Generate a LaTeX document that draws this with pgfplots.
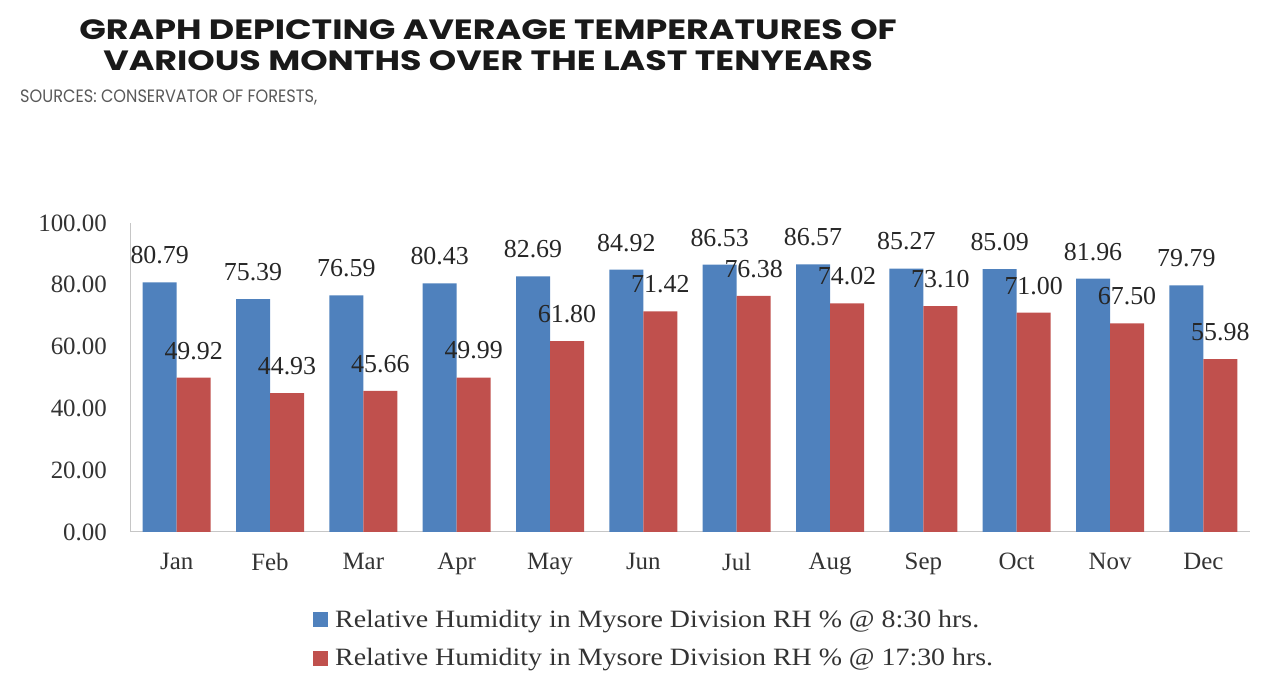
\documentclass[border=0pt]{standalone}
\usepackage{pgfplots}
\pgfplotsset{compat=1.18}
\usepackage{fontspec}
\setmainfont{Liberation Serif}
\newfontfamily\headfont{Poppins}[FakeStretch=1.25]
\newfontfamily\subfont{Poppins}[FakeStretch=0.9]
\newfontfamily\legendfont{Liberation Serif}[FakeStretch=1.12]
\definecolor{rhmorning}{HTML}{4F81BD}
\definecolor{rhevening}{HTML}{C0504D}

\begin{document}
\begin{tikzpicture}[x=1bp,y=1bp]
\path[use as bounding box] (0,0) rectangle (1271,696);
\node[font=\headfont\bfseries\fontsize{28}{31}\selectfont, text=black!90, align=center, inner sep=0] at (488,651)
  {GRAPH DEPICTING AVERAGE TEMPERATURES OF\\VARIOUS MONTHS OVER THE LAST TENYEARS};
\node[anchor=west, font=\subfont\fontsize{18}{20}\selectfont, text=black!65, inner sep=0] at (20,599)
  {SOURCES: CONSERVATOR OF FORESTS,};
\begin{axis}[
  at={(130bp,164bp)}, anchor=south west,
  scale only axis, width=1120bp, height=309bp,
  ybar=0pt, bar width=34bp,
  xmin=-0.5, xmax=11.5, ymin=0, ymax=100,
  xtick={0,...,11},
  xticklabels={Jan,Feb,Mar,Apr,May,Jun,Jul,Aug,Sep,Oct,Nov,Dec},
  ytick={0,20,...,100},
  axis lines*=left,
  axis line style={-, draw=gray!45, line width=1bp},
  major tick length=0pt,
  /pgf/number format/assume math mode=true,
  ticklabel style={font=\fontsize{25}{27}\selectfont, text=black!80},
  yticklabel style={/pgf/number format/fixed, /pgf/number format/fixed zerofill,
    /pgf/number format/precision=2, inner sep=0pt, anchor=east, xshift=-23bp},
  xticklabel style={inner sep=0pt, anchor=north, yshift=-21bp},
  nodes near coords={\pgfmathprintnumber[fixed,fixed zerofill,precision=2]{\pgfplotspointmeta}},
  every node near coord/.append style={font=\fontsize{26}{28}\selectfont, text=black!85,
    anchor=south, inner sep=0pt, yshift=18bp},
  legend style={at={(0.1634,-0.245)}, anchor=north west, draw=none, fill=none,
    font=\legendfont\fontsize{25}{27}\selectfont, text=black!80, row sep=16bp,
    cells={anchor=west}, inner sep=0pt},
]
\addplot[fill=rhmorning, draw=none,
  legend image code/.code={\fill[rhmorning] (0bp,-7.5bp) rectangle (15bp,7.5bp); \path (20bp,0bp);}]
  coordinates {(0,80.79) (1,75.39) (2,76.59) (3,80.43) (4,82.69) (5,84.92)
               (6,86.53) (7,86.57) (8,85.27) (9,85.09) (10,81.96) (11,79.79)};
\addplot[fill=rhevening, draw=none,
  legend image code/.code={\fill[rhevening] (0bp,-7.5bp) rectangle (15bp,7.5bp); \path (20bp,0bp);}]
  coordinates {(0,49.92) (1,44.93) (2,45.66) (3,49.99) (4,61.80) (5,71.42)
               (6,76.38) (7,74.02) (8,73.10) (9,71.00) (10,67.50) (11,55.98)};
\legend{Relative Humidity in Mysore Division RH \% @ 8:30 hrs.,
        Relative Humidity in Mysore Division RH \% @ 17:30 hrs.}
\end{axis}
\end{tikzpicture}
\end{document}
